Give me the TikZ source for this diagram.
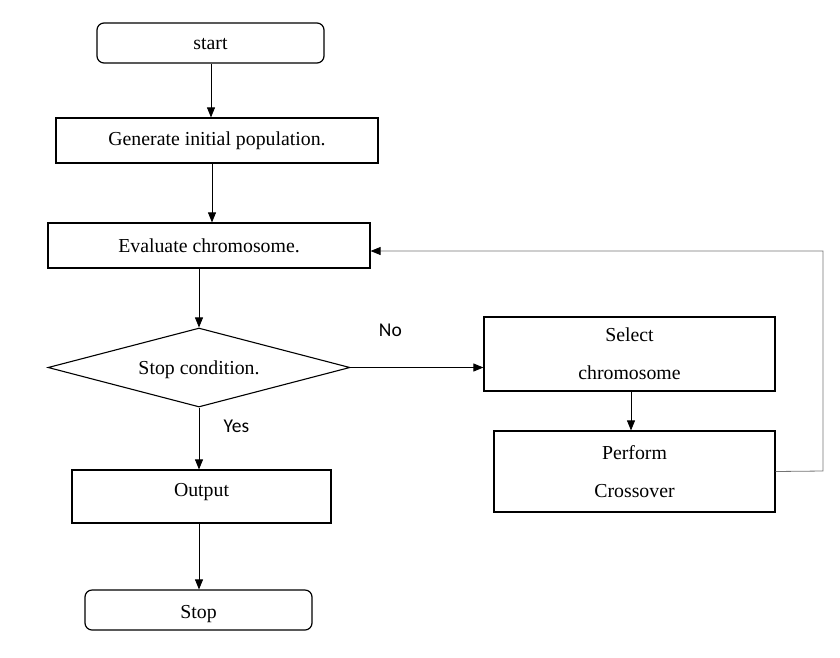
\documentclass[tikz,border=0pt]{standalone}
\usepackage{fontspec}
\setmainfont{Liberation Serif}
\newfontfamily\labelfont{Carlito}
\usetikzlibrary{arrows.meta,shapes.geometric,positioning}

\tikzset{
    box/.style={draw, line width=1.2pt, rectangle, inner sep=0pt, align=center},
    endbox/.style={box, rounded corners=7pt},
    cond/.style={draw, line width=1.1pt, diamond, aspect=3.8, inner sep=0pt},
    flow/.style={-{Triangle[length=10pt,width=8pt]}, line width=0.8pt},
    loopback/.style={-{Triangle[length=10pt,width=8pt,black]}, line width=0.8pt, draw=black!55},
    yesno/.style={font=\labelfont\fontsize{19.5}{22}\selectfont}
}

\begin{document}
\begin{tikzpicture}[x=1pt,y=-1pt, font=\fontsize{19.8}{38}\selectfont]
    \useasboundingbox (0,0) rectangle (840,657);
    % main column
    \node[endbox, minimum width=227pt, minimum height=40pt, text height=16pt, text depth=4pt] (start) at (210.5,43) {start};
    \node[box, minimum width=322pt, minimum height=45pt] (gen) at (217,140.5) {Generate initial population.};
    \node[box, minimum width=322pt, minimum height=45pt] (eval) at (209,245.5) {Evaluate chromosome.};
    \node[cond, minimum width=302pt, minimum height=79pt, text height=17.5pt, text depth=4pt] (stopc) at (199,367.5) {Stop condition.};
    \node[box, minimum width=259pt, minimum height=53pt, text height=13pt, text depth=14pt] (out) at (201.5,496.5) {Output};
    \node[endbox, minimum width=227pt, minimum height=40pt, text height=20pt, text depth=4pt] (stop) at (198.5,610) {Stop};
    % right column
    \node[box, minimum width=291pt, minimum height=74pt] (sel) at (629.5,354) {Select\\chromosome};
    \node[box, minimum width=281pt, minimum height=81pt] (cross) at (634.5,471.5) {Perform\\Crossover};
    %\node at (stopc.east)[circle,fill,inner sep=1pt]{};
    \coordinate (c1) at (823,471);
    \coordinate (c2) at (823,251);

    \draw[flow] (start.south -| 211,0) -- (gen.north -| 211,0);
    \draw[flow] (gen.south -| 212,0) -- (eval.north -| 212,0);
    \draw[flow] (eval.south -| stopc.north) -- (stopc.north);
    \draw[flow] (stopc.south) -- (out.north -| stopc.south)
        node[pos=0.3, right=21pt, yesno] {Yes};
    \draw[flow] (out.south -| 199,0) -- (stop.north -| 199,0);
    \draw[flow] (stopc.east) -- (sel.west |- stopc.east)
        node[pos=0.3, above=27pt, yesno] {No};
    \draw[flow] (sel.south -| 631,0) -- (cross.north -| 631,0);
    \draw[loopback] (cross.east) -- (c1) -- (c2) -- (eval.east |- c2);
\end{tikzpicture}
\end{document}
